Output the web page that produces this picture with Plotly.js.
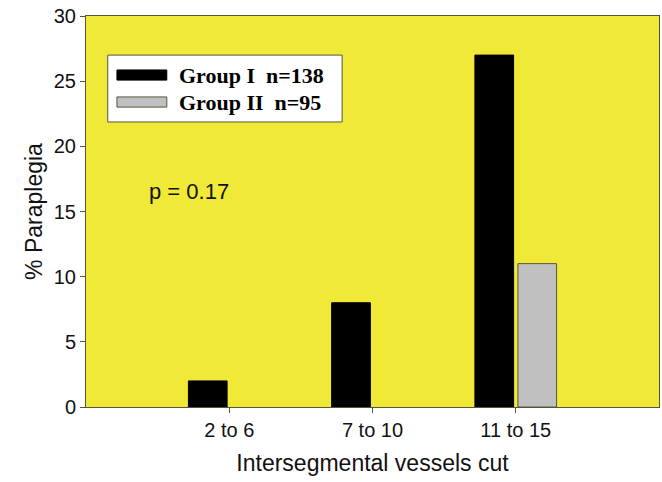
<!DOCTYPE html>
<html>
<head>
<meta charset="utf-8">
<script src="https://cdn.plot.ly/plotly-3.0.1.min.js"></script>
<style>
  body { margin: 0; background: #fff; }
  #plot { width: 662px; height: 482px; }
</style>
</head>
<body>
<div id="plot"></div>
<script>
// categories on the x axis
var categories = ["2 to 6", "7 to 10", "11 to 15"];
var groupNames = ["Group I\u00a0 n=138", "Group II\u00a0 n=95"];
var groupI = [2, 8, 27];
var groupII = [0, 0, 11];
var yTicks = [0, 5, 10, 15, 20, 25, 30];
var pText = "p = 0.17";

var xPos = categories.map(function (c, i) { return i; });

var trace1 = {
  x: xPos,
  y: groupI,
  type: "bar",
  name: groupNames[0],
  marker: { color: "#000000", line: { color: "#000000", width: 1 } },
  showlegend: false
};
var trace2 = {
  x: xPos,
  y: groupII,
  type: "bar",
  name: groupNames[1],
  // no outline for the empty bars
  marker: { color: "#c0c0c0", line: { color: "#55553a", width: groupII.map(function (v) { return v > 0 ? 1 : 0; }) } },
  showlegend: false
};

// hand-made legend box (wide swatches like the original)
var shapes = [
  { type: "rect", xref: "paper", yref: "paper", x0: 0.038, x1: 0.447, y0: 0.729, y1: 0.900,
    fillcolor: "#ffffff", line: { color: "#55553a", width: 1 } },
  { type: "rect", xref: "paper", yref: "paper", x0: 0.054, x1: 0.141, y0: 0.836, y1: 0.862,
    fillcolor: "#000000", line: { color: "#000000", width: 1 } },
  { type: "rect", xref: "paper", yref: "paper", x0: 0.054, x1: 0.141, y0: 0.767, y1: 0.793,
    fillcolor: "#c0c0c0", line: { color: "#55553a", width: 1 } }
];

var legendFont = { family: "Liberation Serif, Times New Roman, serif", size: 22, color: "#000", weight: "bold" };
var annotations = [
  { xref: "paper", yref: "paper", x: 0.158, y: 0.849, xanchor: "left", yanchor: "middle",
    text: groupNames[0], showarrow: false, font: legendFont },
  { xref: "paper", yref: "paper", x: 0.158, y: 0.780, xanchor: "left", yanchor: "middle",
    text: groupNames[1], showarrow: false, font: legendFont },
  { xref: "paper", yref: "paper", x: 0.106, y: 0.550, xanchor: "left", yanchor: "middle",
    text: pText, showarrow: false,
    font: { family: "Liberation Sans, Arial, sans-serif", size: 22, color: "#111" } }
];

var layout = {
  width: 662,
  height: 482,
  margin: { l: 86, r: 3, t: 16, b: 75 },
  paper_bgcolor: "#ffffff",
  plot_bgcolor: "#f1e937",
  barmode: "group",
  bargap: 0.4,
  bargroupgap: 0.1,
  font: { family: "Liberation Sans, Arial, sans-serif", color: "#111" },
  xaxis: {
    range: [-1, 3],
    tickvals: xPos,
    ticktext: categories,
    ticks: "outside",
    ticklen: 5,
    tickcolor: "#55553a",
    showgrid: false,
    zeroline: false,
    showline: true,
    mirror: true,
    linecolor: "#55553a",
    linewidth: 1,
    tickfont: { size: 20 },
    title: { text: "Intersegmental vessels cut", font: { size: 23 }, standoff: 14 }
  },
  yaxis: {
    range: [0, 30],
    tickvals: yTicks,
    ticks: "outside",
    ticklen: 5,
    tickcolor: "#55553a",
    showgrid: false,
    zeroline: false,
    showline: true,
    mirror: true,
    linecolor: "#55553a",
    linewidth: 1,
    tickfont: { size: 20 },
    title: { text: "% Paraplegia", font: { size: 23 }, standoff: 4 }
  },
  shapes: shapes,
  annotations: annotations
};

Plotly.newPlot("plot", [trace1, trace2], layout, { displayModeBar: false });
</script>
</body>
</html>
